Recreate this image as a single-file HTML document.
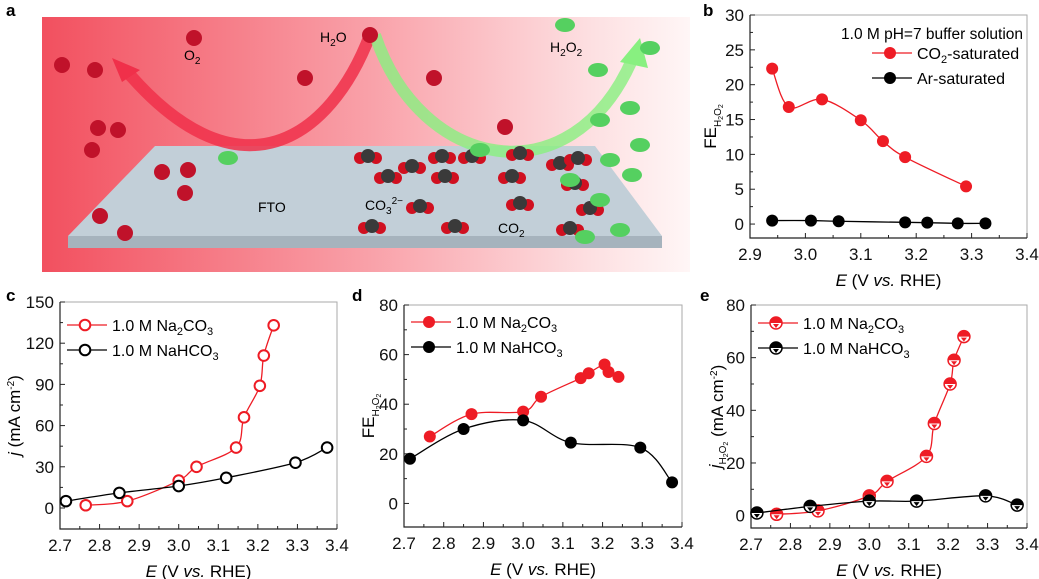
<!DOCTYPE html>
<html><head><meta charset="utf-8"><style>
body{margin:0;background:#fff;}
svg{display:block;font-family:"Liberation Sans",Arial,sans-serif;}
</style></head><body>
<svg id="fig" width="1039" height="579" viewBox="0 0 1039 579">
<defs>
<linearGradient id="bg" x1="0" x2="1" y1="0" y2="0">
<stop offset="0" stop-color="#f2505f"/><stop offset="0.5" stop-color="#f9a0a8"/><stop offset="0.85" stop-color="#fde0e2"/><stop offset="1" stop-color="#fff6f6"/>
</linearGradient>
</defs>
<g id="panelA">
<text x="6" y="16" font-size="17" font-weight="bold">a</text>
<rect x="42" y="17" width="648" height="255" fill="url(#bg)"/>
<path d="M155,146 L595,146 L662,236 L68,236 Z" fill="#c2cfd8"/>
<path d="M68,236 L662,236 L662,248 L68,248 Z" fill="#a6b3bd"/>
<path d="M370,35 C330,140 240,200 130,75" stroke="#f0304a" stroke-width="12" fill="none" opacity="0.85"/>
<path d="M112,58 L140,70 L122,82 Z" fill="#f0304a"/>
<path d="M375,35 C420,170 570,200 632,60" stroke="#88f080" stroke-width="12" fill="none" opacity="0.8"/>
<path d="M640,38 L648,68 L620,62 Z" fill="#88f080"/>
<g id="mols"></g>
<text x="320" y="42" font-size="14">H<tspan font-size="10" dy="4">2</tspan><tspan dy="-4">O</tspan></text>
<text x="184" y="60" font-size="14">O<tspan font-size="10" dy="4">2</tspan></text>
<text x="550" y="52" font-size="14">H<tspan font-size="10" dy="4">2</tspan><tspan dy="-4">O</tspan><tspan font-size="10" dy="4">2</tspan></text>
<text x="258" y="212" font-size="14">FTO</text>
<text x="365" y="210" font-size="14">CO<tspan font-size="10" dy="4">3</tspan><tspan font-size="10" dy="-10">2−</tspan></text>
<text x="498" y="233" font-size="14">CO<tspan font-size="10" dy="4">2</tspan></text>
</g>
</svg>
<script>
// chart data
const bRedX=[2.94,2.97,3.03,3.10,3.14,3.18,3.29];
const bRedY=[22.3,16.8,17.9,14.9,11.9,9.6,5.4];
const bBlkX=[2.94,3.01,3.06,3.18,3.22,3.275,3.325];
const bBlkY=[0.5,0.5,0.4,0.25,0.2,0.1,0.1];
const naX=[2.765,2.87,3.0,3.045,3.145,3.165,3.205,3.215,3.24];
const hcX=[2.715,2.85,3.0,3.12,3.295,3.375];
const cRedY=[2,5,20,30,44,66,89,111,133];
const cBlkY=[5,11,16,22,33,44];
const dRedY=[27,36,37,43,50.5,52.5,56,53,51];
const dBlkY=[18,30,33.5,24.5,22.5,8.5];
const eRedY=[0.5,1.8,7.5,13,22.5,35,50,59,68];
const eBlkY=[1,3.5,5.5,5.5,7.5,4];
const bYTicks=[0,5,10,15,20,25,30];
const bXTicks=[2.9,3.0,3.1,3.2,3.3,3.4];
const cdeXTicks=[2.7,2.8,2.9,3.0,3.1,3.2,3.3,3.4];
const cYTicks=[0,30,60,90,120,150];
const deYTicks=[0,20,40,60,80];

const NS="http://www.w3.org/2000/svg";
const svg=document.getElementById('fig');
function mk(tag,attrs,parent){const e=document.createElementNS(NS,tag);for(const k in attrs)e.setAttribute(k,attrs[k]);(parent||svg).appendChild(e);return e;}

const mols=document.getElementById('mols');
const reds=[[62,65],[95,70],[98,128],[92,150],[118,130],[125,233],[100,216],[162,172],[188,170],[185,193],[194,38],[370,35],[305,78],[434,78],[505,127]];
reds.forEach(p=>{const c=mk('circle',{cx:p[0],cy:p[1],r:8,fill:'#c0122a'},mols);

});
const co2=[[368,158],[412,168],[442,158],[388,178],[420,208],[372,228],[455,228],[472,158],[520,155],[560,165],[512,178],[575,185],[520,205],[590,210],[570,230],[445,178],[578,160]];
co2.forEach(p=>{const g=mk('g',{},mols);


mk('circle',{cx:p[0]-8,cy:p[1],r:6,fill:'#d01020'},g);mk('circle',{cx:p[0]+8,cy:p[1],r:6,fill:'#d01020'},g);mk('circle',{cx:p[0],cy:p[1]-2,r:7,fill:'#3a3a3a'},g);});
const greens=[[565,25],[650,48],[598,70],[630,108],[600,120],[640,145],[610,160],[570,180],[600,200],[632,175],[585,237],[620,230],[228,158],[480,150]];
greens.forEach(p=>{const c=mk('ellipse',{cx:p[0],cy:p[1],rx:10,ry:7,fill:'#55d060'},mols);

});

function spline(pts){
  if(pts.length<2)return '';
  let d='M'+pts[0][0]+','+pts[0][1];
  for(let i=0;i<pts.length-1;i++){
    const p0=pts[i-1]||pts[i],p1=pts[i],p2=pts[i+1],p3=pts[i+2]||p2;
    const c1=[p1[0]+(p2[0]-p0[0])/6,p1[1]+(p2[1]-p0[1])/6];
    const c2=[p2[0]-(p3[0]-p1[0])/6,p2[1]-(p3[1]-p1[1])/6];
    d+=' C'+c1[0]+','+c1[1]+' '+c2[0]+','+c2[1]+' '+p2[0]+','+p2[1];
  }
  return d;
}

function chart(o){
  const g=mk('g',{});
  
  
  const X=v=>o.L+(v-o.x0)/(o.x1-o.x0)*(o.R-o.L);
  const Y=v=>o.B-(v-o.y0)/(o.y1-o.y0)*(o.B-o.T);
  const lab=mk('text',{x:o.labX,y:o.labY,'font-size':17,'font-weight':'bold'},g);lab.textContent=o.letter;
  
  
  mk('path',{d:`M${o.L},${o.T} L${o.R},${o.T} L${o.R},${o.B}`,stroke:'#aaa',fill:'none','stroke-width':1},g);
  const ax=mk('path',{d:`M${o.L},${o.T} L${o.L},${o.B} L${o.R},${o.B}`,stroke:'#222',fill:'none','stroke-width':1.2},g);
  
  
  o.xt.forEach((v,i)=>{const x=X(v);
    mk('line',{x1:x,x2:x,y1:o.B,y2:o.B-5,stroke:'#222'},g);
    if(i<o.xt.length-1){const xm=X(v+(o.xt[1]-o.xt[0])/2);mk('line',{x1:xm,x2:xm,y1:o.B,y2:o.B-3,stroke:'#222'},g);}
    const t=mk('text',{x:x,y:o.B+22,'font-size':17,'text-anchor':'middle',fill:'#111'},g);t.textContent=v.toFixed(1);
    
    });
  o.yt.forEach((v,i)=>{const y=Y(v);
    mk('line',{x1:o.L,x2:o.L+5,y1:y,y2:y,stroke:'#222'},g);
    const ym=Y(v+(o.yt[1]-o.yt[0])/2); if(ym>o.T)mk('line',{x1:o.L,x2:o.L+3,y1:ym,y2:ym,stroke:'#222'},g);
    const t=mk('text',{x:o.L-6,y:y+6,'font-size':17,'text-anchor':'end',fill:'#111'},g);t.textContent=v;
    
    });
  const xt=mk('text',{x:(o.L+o.R)/2,y:o.B+48,'font-size':17,'text-anchor':'middle'},g);
  xt.innerHTML='<tspan font-style="italic">E</tspan> (V <tspan font-style="italic">vs.</tspan> RHE)';
  
  
  const yt=mk('text',{x:0,y:0,'font-size':17,'text-anchor':'middle',transform:`translate(${o.L-o.ytOff},${(o.T+o.B)/2}) rotate(-90)`},g);
  yt.innerHTML=o.ytitle;
  
  
  o.series.forEach((s,si)=>{
    const pts=s.x.map((v,i)=>[X(v),Y(s.y[i])]);
    const p=mk('path',{d:spline(pts),stroke:s.c,fill:'none','stroke-width':1.3},g);
    
    
    pts.forEach(q=>drawMarker(g,q[0],q[1],s.c,o.mstyle,s.name+'-point'));
    const lx=o.legX,ly=o.legY+si*25;
    const lg=mk('g',{},g);
    
    
    mk('line',{x1:lx,x2:lx+40,y1:ly,y2:ly,stroke:s.c,'stroke-width':1.3},lg);
    drawMarker(lg,lx+18,ly,s.c,o.mstyle,'legend-marker');
    const lt=mk('text',{x:lx+45,y:ly+6,'font-size':16},lg);lt.innerHTML=s.label;
  });
  if(o.note){const n=mk('text',{x:o.R-4,y:o.T+24,'font-size':15.5,'text-anchor':'end'},g);n.textContent=o.note;
    
    }
}
function drawMarker(g,x,y,c,style,name){
  const r=6;let m;
  if(style==='open'){m=mk('circle',{cx:x,cy:y,r:r-0.7,fill:'#fff',stroke:c,'stroke-width':2},g);}
  else if(style==='half'){m=mk('g',{},g);
    mk('circle',{cx:x,cy:y,r:r,fill:'#fff',stroke:c,'stroke-width':1.5},m);
    mk('path',{d:`M${x-r},${y} A${r},${r} 0 0 1 ${x+r},${y} Z`,fill:c},m);
    mk('path',{d:`M${x-3},${y+1} L${x+3},${y+1} L${x},${y+5} Z`,fill:c},m);}
  else {m=mk('circle',{cx:x,cy:y,r:r,fill:c},g);}
  
  
}
const RED='#ee1c25',BLK='#000';
const na='1.0 M Na<tspan font-size="11" dy="4">2</tspan><tspan dy="-4">CO</tspan><tspan font-size="11" dy="4">3</tspan>';
const hc='1.0 M NaHCO<tspan font-size="11" dy="4">3</tspan>';
const feT='FE<tspan font-size="10" dy="5">H</tspan><tspan font-size="7" dy="2">2</tspan><tspan font-size="10" dy="-2">O</tspan><tspan font-size="7" dy="2">2</tspan>';
chart({name:'chart-b',letter:'b',labX:703,labY:16,L:750,R:1027,T:15,B:238,x0:2.9,x1:3.4,y0:-2,y1:30,xt:bXTicks,yt:bYTicks,ytOff:34,
  ytitle:feT,mstyle:'filled',legX:872,legY:53,note:'1.0 M pH=7 buffer solution',
  series:[{name:'co2-saturated',x:bRedX,y:bRedY,c:RED,label:'CO<tspan font-size="11" dy="4">2</tspan><tspan dy="-4">-saturated</tspan>'},
          {name:'ar-saturated',x:bBlkX,y:bBlkY,c:BLK,label:'Ar-saturated'}]});
chart({name:'chart-c',letter:'c',labX:6,labY:301,L:60,R:337,T:302,B:529,x0:2.7,x1:3.4,y0:-15.3,y1:150,xt:cdeXTicks,yt:cYTicks,ytOff:40,
  ytitle:'<tspan font-style="italic">j</tspan> (mA cm<tspan font-size="10" dy="-6">-2</tspan><tspan dy="6">)</tspan>',mstyle:'open',legX:67,legY:325,
  series:[{name:'na2co3',x:naX,y:cRedY,c:RED,label:na},{name:'nahco3',x:hcX,y:cBlkY,c:BLK,label:hc}]});
chart({name:'chart-d',letter:'d',labX:352,labY:301,L:404,R:682,T:305,B:527,x0:2.7,x1:3.4,y0:-9.5,y1:80,xt:cdeXTicks,yt:deYTicks,ytOff:30,
  ytitle:feT,mstyle:'filled',legX:411,legY:322,
  series:[{name:'na2co3',x:naX,y:dRedY,c:RED,label:na},{name:'nahco3',x:hcX,y:dBlkY,c:BLK,label:hc}]});
chart({name:'chart-e',letter:'e',labX:700,labY:301,L:751,R:1027,T:305,B:528,x0:2.7,x1:3.4,y0:-4.7,y1:80,xt:cdeXTicks,yt:deYTicks,ytOff:30,
  ytitle:'<tspan font-style="italic">j</tspan><tspan font-size="10" dy="5">H</tspan><tspan font-size="7" dy="2">2</tspan><tspan font-size="10" dy="-2">O</tspan><tspan font-size="7" dy="2">2</tspan><tspan dy="-5"> (mA cm</tspan><tspan font-size="10" dy="-6">-2</tspan><tspan dy="6">)</tspan>',mstyle:'half',legX:758,legY:323,
  series:[{name:'na2co3',x:naX,y:eRedY,c:RED,label:na},{name:'nahco3',x:hcX,y:eBlkY,c:BLK,label:hc}]});
</script>
</body></html>
